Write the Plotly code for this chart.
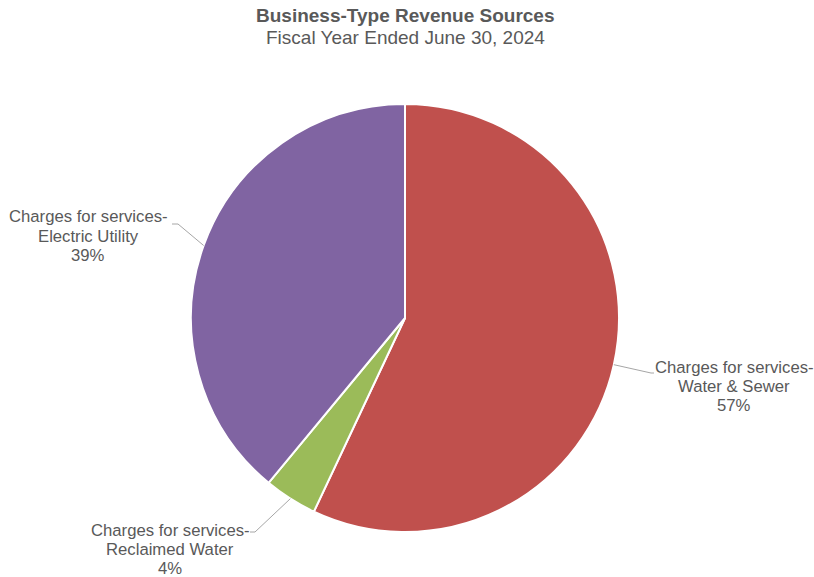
import math
import plotly.graph_objects as go

# Revenue shares (percent), in drawing order clockwise from 12 o'clock
categories = [
    "Charges for services-<br>Water & Sewer",
    "Charges for services-<br>Reclaimed Water",
    "Charges for services-<br>Electric Utility",
]
shares = [57, 4, 39]
colors = ["#C0504D", "#9BBB59", "#8064A2"]

W, H = 814, 577
CX, CY, R = 405, 318, 214          # pie centre and radius in pixels

# label block centres and elbow points of the leader lines (pixels)
label_pos = [(734, 386), (170, 549), (88, 236)]
elbow_pos = [((651, 373), (654, 373)), ((255, 532), (250, 532)), ((178, 224), (172, 224))]
LINE_GAP = 19                       # pixel spacing between label lines

TEXT = "#595959"
FONT = "Liberation Sans, Arial, sans-serif"


def px(x, y):
    return x / W, 1 - y / H


fig = go.Figure(go.Pie(
    labels=categories,
    values=shares,
    sort=False,
    direction="clockwise",
    rotation=0,
    marker=dict(colors=colors, line=dict(color="white", width=2)),
    textinfo="none",
    hoverinfo="label+percent",
    showlegend=False,
    domain=dict(x=[(CX - R) / W, (CX + R) / W], y=[1 - (CY + R) / H, 1 - (CY - R) / H]),
))

annotations = [
    dict(x=px(405, 15)[0], y=px(405, 15)[1], text="<b>Business-Type Revenue Sources</b>",
         font=dict(size=19, color=TEXT, family=FONT)),
    dict(x=px(405, 37)[0], y=px(405, 37)[1], text="Fiscal Year Ended June 30, 2024",
         font=dict(size=19, color=TEXT, family=FONT)),
]
shapes = []

total = sum(shares)
cum = 0
for name, v, (lx, ly), (e1, e2) in zip(categories, shares, label_pos, elbow_pos):
    mid = (cum + v / 2) / total * 2 * math.pi
    cum += v
    ex = CX + R * math.sin(mid)
    ey = CY - R * math.cos(mid)
    pct = round(v / total * 100)
    lines = name.split("<br>") + [f"{pct}%"]
    n = len(lines)
    for i, line in enumerate(lines):
        yy = ly + (i - (n - 1) / 2) * LINE_GAP
        ax, ay = px(lx, yy)
        annotations.append(dict(x=ax, y=ay, text=line,
                                font=dict(size=16.7, color=TEXT, family=FONT)))
    p0, p1, p2 = px(ex, ey), px(*e1), px(*e2)
    shapes.append(dict(
        type="path", xref="paper", yref="paper",
        path=f"M {p0[0]} {p0[1]} L {p1[0]} {p1[1]} L {p2[0]} {p2[1]}",
        line=dict(color="#A6A6A6", width=1),
    ))

for a in annotations:
    a.update(showarrow=False, xref="paper", yref="paper",
             xanchor="center", yanchor="middle", align="center")

fig.update_layout(
    width=W, height=H,
    margin=dict(l=0, r=0, t=0, b=0),
    paper_bgcolor="white",
    plot_bgcolor="white",
    annotations=annotations,
    shapes=shapes,
)

fig.write_html("out.html")
